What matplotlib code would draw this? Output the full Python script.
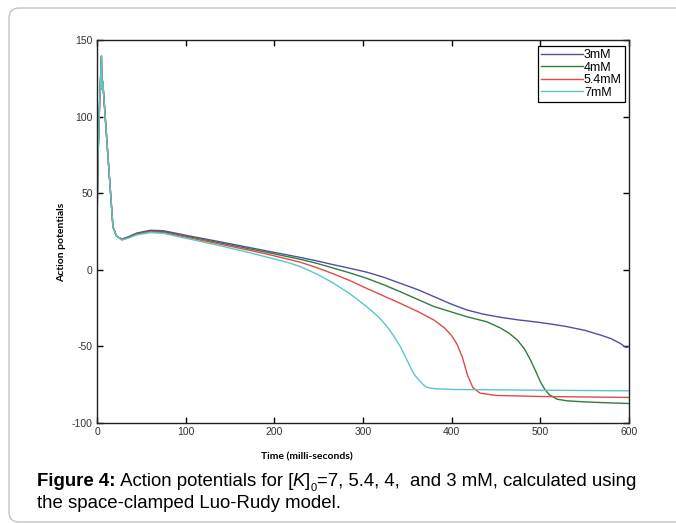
import matplotlib
matplotlib.use("Agg")
import matplotlib.pyplot as plt
from matplotlib.patches import FancyBboxPatch
from matplotlib.transforms import IdentityTransform

# ---- data ----
t_3mM = [0, 0.3, 1, 3, 5, 5.6, 6.5, 12, 18, 22, 28, 35, 45, 60, 75, 105, 135, 165, 195, 229, 248, 266, 285, 304,
         323, 342, 362, 380, 400, 417, 436, 455, 475, 493, 512, 530, 550, 568, 580, 590, 597, 600]
v_3mM = [-84, 40, 70, 110, 139.5, 118, 123, 77, 28, 22, 20, 21.5, 24, 25.8, 25.5, 22, 18.7, 15.3, 11.9, 8.1, 5.8,
         3.4, 1.0, -1.5, -4.8, -8.8, -13, -17.5, -22.5, -26.2, -29, -31, -32.7, -33.9, -35.4, -37.1, -39.5, -42.6,
         -45, -48, -50.8, -50]

t_4mM = [0, 0.3, 1, 3, 5, 5.6, 6.5, 12, 18, 22, 28, 35, 45, 60, 75, 105, 135, 165, 195, 229, 248, 266, 285, 304,
         323, 342, 380, 417, 440, 455, 465, 474, 482, 489, 495, 500, 505, 510, 519, 530, 549, 575, 600]
v_4mM = [-84, 40, 70, 110, 139.5, 118, 123, 77, 28, 22, 19.8, 21.2, 23.6, 25.3, 24.9, 21.4, 18.0, 14.5, 11.0, 6.9,
         4.2, 1.2, -2.0, -5.5, -9.7, -14.3, -24, -30.6, -34, -38, -41.5, -45.8, -51.5, -59, -66.5, -73, -78, -81.5,
         -84.5, -85.5, -86.2, -86.8, -87.3]

t_54mM = [0, 0.3, 1, 3, 5, 5.6, 6.5, 12, 18, 22, 28, 35, 45, 60, 75, 105, 135, 165, 195, 229, 248, 266, 285, 304,
          323, 342, 362, 380, 392, 400, 406, 412, 418, 424, 432, 450, 500, 600]
v_54mM = [-84, 40, 70, 110, 139.5, 118, 123, 77, 28, 22, 19.6, 20.9, 23.2, 24.8, 24.3, 20.8, 17.2, 13.6, 9.8, 5.0,
          1.4, -2.5, -7.0, -12.1, -17, -21.9, -27.3, -32.8, -38, -43, -48.5, -57, -69, -77, -80.5, -82, -82.7, -83.3]

t_7mM = [0, 0.3, 1, 3, 5, 5.6, 6.5, 12, 18, 22, 28, 35, 45, 60, 75, 105, 135, 165, 195, 215, 229, 248, 266, 285,
         304, 318, 327, 335, 342, 348, 353, 358, 363, 368, 372, 380, 400, 500, 600]
v_7mM = [-84, 40, 70, 110, 139.5, 118, 123, 77, 28, 22, 19.4, 20.6, 22.8, 24.3, 23.8, 20.0, 16.2, 12.2, 7.8, 4.8,
         2.2, -2.8, -8.5, -15.5, -24, -31, -37, -43.5, -50, -57, -63, -68.5, -72, -75, -76.7, -77.6, -78.1, -78.6,
         -79]

labels = ["3mM", "4mM", "5.4mM", "7mM"]
colors = ["#4f4fa3", "#2f7d3c", "#e04a4a", "#5cc6c6"]

x_ticks = [0, 100, 200, 300, 400, 500, 600]
y_ticks = [-100, -50, 0, 50, 100, 150]

# ---- figure ----
W, H = 676, 523
plt.rcParams['axes.unicode_minus'] = False

fig = plt.figure(figsize=(W / 100, H / 100), dpi=100)
fig.patch.set_facecolor("white")

# outer rounded frame
frame = FancyBboxPatch((9, H - 522), W + 30, 522 - 8,
                       boxstyle="round,pad=0,rounding_size=10",
                       transform=IdentityTransform(), facecolor="none",
                       edgecolor="#c4c4c4", linewidth=1.0)
fig.patches.append(frame)

ax = fig.add_axes([97 / W, 1 - 423 / H, (629 - 97) / W, (423 - 40) / H])

series = [(t_3mM, v_3mM), (t_4mM, v_4mM), (t_54mM, v_54mM), (t_7mM, v_7mM)]
for (t, v), lab, c in zip(series, labels, colors):
    ax.plot(t, v, color=c, lw=1.0, label=lab)

ax.set_xlim(0, 600)
ax.set_ylim(-100, 150)
ax.set_xticks(x_ticks)
ax.set_yticks(y_ticks)
ax.tick_params(direction="in", length=4, width=1.0, top=True, right=True,
               labelsize=7.5, labelcolor="#333333", pad=3)
for lab in ax.get_xticklabels() + ax.get_yticklabels():
    lab.set_fontfamily("Liberation Sans")
for s in ax.spines.values():
    s.set_linewidth(1.0)
    s.set_color("#222222")

leg = ax.legend(loc="upper right", bbox_to_anchor=(0.9925, 0.984), borderaxespad=0,
                fancybox=False, framealpha=1, edgecolor="black",
                prop={"family": "Liberation Sans", "size": 9},
                handlelength=3.4, handletextpad=0.05, labelspacing=0.04,
                borderpad=0.25)
leg.get_frame().set_linewidth(0.9)

# axis labels
fig.text(307 / W, 1 - 457 / H, "Time (milli-seconds)", ha="center", va="center",
         fontsize=7.5, fontweight="bold", family="Lato")
fig.text(62 / W, 1 - 242 / H, "Action potentials", ha="center", va="center",
         rotation=90, fontsize=7.5, fontweight="bold", family="Lato")

# caption, assembled from pieces
renderer = fig.canvas.get_renderer()
cap_fs = 13.4
def piece(x_px, y_px, s, **kw):
    txt = fig.text(x_px / W, 1 - y_px / H, s, ha="left", va="baseline",
                   family="Liberation Sans", **kw)
    bb = txt.get_window_extent(renderer=renderer)
    return x_px + bb.width

y1 = 486
x = 37
x = piece(x, y1, "Figure 4:", fontsize=cap_fs, fontweight="bold")
x = piece(x, y1, " Action potentials for [", fontsize=cap_fs)
x = piece(x, y1, "K", fontsize=cap_fs, fontstyle="italic")
x = piece(x, y1, "]", fontsize=cap_fs)
x = piece(x, y1 + 5, "0", fontsize=cap_fs * 0.6)
x = piece(x, y1, "=7, 5.4, 4,  and 3 mM, calculated using", fontsize=cap_fs)
piece(37, 508, "the space-clamped Luo-Rudy model.", fontsize=cap_fs)

fig.savefig("out.png", dpi=100)
